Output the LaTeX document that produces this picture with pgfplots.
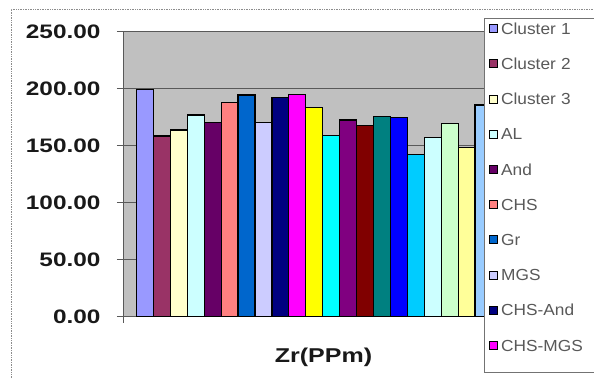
\documentclass[border=0pt]{standalone}
\usepackage{fontspec}
\setmainfont{Liberation Sans}
\newfontfamily\tickfont[FakeStretch=1.25]{Liberation Sans}
\newfontfamily\legfont[FakeStretch=1.08]{Liberation Sans}
\usepackage{pgfplots}
\pgfplotsset{compat=1.18}
\definecolor{plotgrey}{HTML}{C0C0C0}
\definecolor{cA}{HTML}{9999FF}
\definecolor{cB}{HTML}{993366}
\definecolor{cC}{HTML}{FFFFCC}
\definecolor{cD}{HTML}{CCFFFF}
\definecolor{cE}{HTML}{660066}
\definecolor{cF}{HTML}{FF8080}
\definecolor{cG}{HTML}{0066CC}
\definecolor{cH}{HTML}{CCCCFF}
\definecolor{cI}{HTML}{000080}
\definecolor{cJ}{HTML}{FF00FF}
\definecolor{cK}{HTML}{FFFF00}
\definecolor{cL}{HTML}{00FFFF}
\definecolor{cM}{HTML}{800080}
\definecolor{cN}{HTML}{800000}
\definecolor{cO}{HTML}{008080}
\definecolor{cP}{HTML}{0000FF}
\definecolor{cQ}{HTML}{00CCFF}
\definecolor{cR}{HTML}{CCFFFF}
\definecolor{cS}{HTML}{CCFFCC}
\definecolor{cT}{HTML}{FFFF99}
\definecolor{cU}{HTML}{99CCFF}
\pgfplotsset{bs/.style={fill=#1, draw=black, line width=1.2pt, bar shift=0pt}}
\begin{document}
\begin{tikzpicture}
\useasboundingbox (0,0) rectangle (594pt,378pt);
\fill[white] (0,0) rectangle (594pt,378pt);
\draw[black!45, densely dotted, line width=0.7pt] (11pt,-5pt) rectangle (610pt,369pt);
\begin{axis}[
  at={(123pt,61.3pt)}, anchor=south west,
  scale only axis, width=467pt, height=285pt,
  xmin=-0.297, xmax=27.29, ymin=0, ymax=250,
  ybar, bar width=1,
  legend image code/.code={\draw[#1, draw=black, line width=0.8pt] (0pt,1.7pt) rectangle (8pt,9.7pt);},
  axis background/.style={fill=plotgrey},
  axis line style={draw=black!65, line width=0.8pt},
  ymajorgrids, grid style={draw=black!65, line width=0.9pt},
  ytick={0,50,100,150,200,250},
  xtick={-0.29}, xticklabels={},
  xtick pos=bottom, ytick pos=left,
  tick align=outside, major tick length=6pt,
  tick style={draw=black!65, line width=0.8pt},
  /pgf/number format/assume math mode=true,
  yticklabel style={/pgf/number format/.cd, fixed, fixed zerofill, precision=2, /tikz/.cd,
    font=\tickfont\bfseries\fontsize{19.5}{22}\selectfont, text=black!90, xshift=-13pt},
  legend style={at={(0.772,1.048)}, anchor=north west, draw=black!55, line width=0.7pt,
    fill=white, inner xsep=5.5pt, inner ysep=4pt, row sep=21.2pt, column sep=3pt,
    cells={anchor=base west},
    nodes={inner sep=0pt, text height=12pt, text depth=2pt, text width=92pt,
      font=\legfont\fontsize{16}{18}\selectfont, text=black!65}},
]
\addplot[bs=cA] coordinates {(1,199.6)}; \addlegendentry{Cluster 1}
\addplot[bs=cB] coordinates {(2,158.5)}; \addlegendentry{Cluster 2}
\addplot[bs=cC] coordinates {(3,163.8)}; \addlegendentry{Cluster 3}
\addplot[bs=cD] coordinates {(4,176.9)}; \addlegendentry{AL}
\addplot[bs=cE] coordinates {(5,170.5)}; \addlegendentry{And}
\addplot[bs=cF] coordinates {(6,187.7)}; \addlegendentry{CHS}
\addplot[bs=cG] coordinates {(7,194.5)}; \addlegendentry{Gr}
\addplot[bs=cH] coordinates {(8,170.5)}; \addlegendentry{MGS}
\addplot[bs=cI] coordinates {(9,192.5)}; \addlegendentry{CHS-And}
\addplot[bs=cJ] coordinates {(10,195.1)}; \addlegendentry[text depth=17pt]{CHS-MGS}
\addplot[bs=cK, forget plot] coordinates {(11,183.3)};
\addplot[bs=cL, forget plot] coordinates {(12,158.8)};
\addplot[bs=cM, forget plot] coordinates {(13,172.5)};
\addplot[bs=cN, forget plot] coordinates {(14,167.5)};
\addplot[bs=cO, forget plot] coordinates {(15,175.4)};
\addplot[bs=cP, forget plot] coordinates {(16,174.6)};
\addplot[bs=cQ, forget plot] coordinates {(17,142.5)};
\addplot[bs=cR, forget plot] coordinates {(18,157.4)};
\addplot[bs=cS, forget plot] coordinates {(19,169.6)};
\addplot[bs=cT, forget plot] coordinates {(20,148.6)};
\addplot[bs=cU, forget plot] coordinates {(21,185.7)};
\end{axis}
\node[anchor=base, font=\tickfont\bfseries\fontsize{20}{24}\selectfont, text=black!90] at (323.5pt,16pt) {Zr(PPm)};
\end{tikzpicture}
\end{document}
